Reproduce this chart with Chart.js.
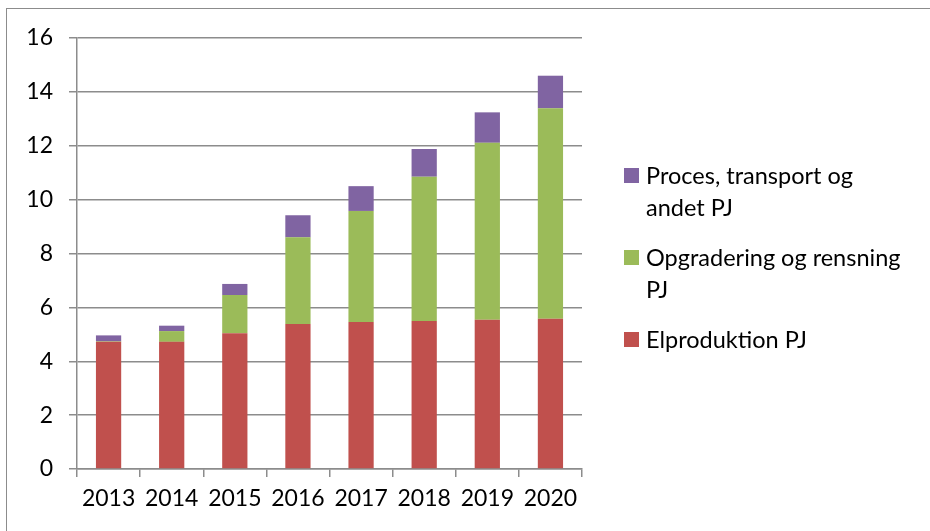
<!DOCTYPE html>
<html>
<head>
<meta charset="utf-8">
<script src="https://cdn.jsdelivr.net/npm/chart.js@4/dist/chart.umd.min.js"></script>
<style>
  html, body { margin: 0; padding: 0; background: #fff; }
  #wrap { position: relative; width: 930px; height: 531px; overflow: hidden; }
  #frame { position: absolute; left: 6px; top: 8px; width: 960px; height: 560px; border: 1.5px solid #8c8c8c; box-sizing: border-box; }
  #chart { position: absolute; left: 0; top: 0; }
  #legend { position: absolute; left: 624px; top: 159px; font-family: Lato, "Open Sans", sans-serif; font-size: 23.5px; color: #000; }
  .item { display: flex; align-items: flex-start; margin-bottom: 18px; }
  .box { width: 15px; height: 15px; margin-top: 8.5px; margin-right: 7px; flex: none; }
  .txt { line-height: 32px; width: 264px; }
</style>
</head>
<body>
<div id="wrap">
  <div id="frame"></div>
  <canvas id="chart" width="930" height="531"></canvas>
  <div id="legend"></div>
</div>
<script>
const years = ['2013', '2014', '2015', '2016', '2017', '2018', '2019', '2020'];
const elproduktion = [4.72, 4.72, 5.04, 5.38, 5.46, 5.49, 5.54, 5.58];
const opgradering = [0.02, 0.40, 1.42, 3.22, 4.12, 5.36, 6.57, 7.81];
const proces = [0.22, 0.20, 0.41, 0.82, 0.92, 1.03, 1.13, 1.21];
const yTicks = [0, 2, 4, 6, 8, 10, 12, 14, 16];

const gridGray = '#8c8c8c';
const font = { family: 'Lato, "Open Sans", sans-serif', size: 23 };

const datasets = [
  { label: 'Elproduktion PJ', data: elproduktion, backgroundColor: '#C0504D' },
  { label: 'Opgradering og rensning PJ', data: opgradering, backgroundColor: '#9BBB59' },
  { label: 'Proces, transport og andet PJ', data: proces, backgroundColor: '#8064A2' }
];

const chart = new Chart(document.getElementById('chart'), {
  type: 'bar',
  data: {
    labels: years,
    datasets: datasets.map(d => ({ ...d, borderWidth: 0, categoryPercentage: 1, barPercentage: 0.4 }))
  },
  options: {
    responsive: false,
    animation: false,
    layout: { padding: { left: 0, right: 348, top: 38, bottom: 0 } },
    plugins: { legend: { display: false }, tooltip: { enabled: false } },
    scales: {
      x: {
        stacked: true,
        grid: { drawOnChartArea: false, drawTicks: true, tickLength: 8, color: gridGray, lineWidth: 1.5 },
        border: { color: gridGray, width: 1.5 },
        ticks: { color: '#000', font, padding: 8 },
        afterFit: s => { s.height = 62; }
      },
      y: {
        stacked: true,
        min: 0,
        max: 16,
        afterBuildTicks: s => { s.ticks = yTicks.map(v => ({ value: v })); },
        grid: { color: gridGray, lineWidth: 1.5, tickLength: 8 },
        border: { color: gridGray, width: 1.5 },
        ticks: { color: '#000', font, padding: 16 },
        afterFit: s => { s.width = 77; }
      }
    }
  }
});

// legend on the right, top entry is the top of the stack
const legend = document.getElementById('legend');
datasets.slice().reverse().forEach(d => {
  const item = document.createElement('div');
  item.className = 'item';
  item.innerHTML = `<div class="box" style="background:${d.backgroundColor}"></div><div class="txt">${d.label}</div>`;
  legend.appendChild(item);
});
</script>
</body>
</html>
